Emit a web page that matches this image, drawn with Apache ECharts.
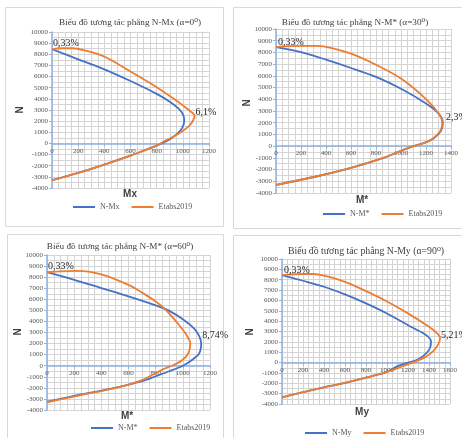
<!DOCTYPE html>
<html><head><meta charset="utf-8">
<script src="https://cdn.jsdelivr.net/npm/echarts@6/dist/echarts.min.js"></script>
<style>html,body{margin:0;padding:0;background:#fff}#c{width:462px;height:438px}</style>
</head><body><div id="c"></div>
<script>
const titles = ['Biểu đồ tương tác phẳng N-Mx (α=0⁰)','Biểu đồ tương tác phẳng N-M* (α=30⁰)','Biểu đồ tương tác phẳng N-M* (α=60⁰)','Biểu đồ tương tác phẳng N-My (α=90⁰)'];
const xNames = ['Mx','M*','M*','My'];
const blueNames = ['N-Mx','N-M*','N-M*','N-My'];
const orangeName = 'Etabs2019';
const xMaxs = [1200,1400,1200,1600];
const yMin = -4000, yMax = 10000;
const startLabels = ['0,33%','0,33%','0,33%','0,33%'];
const tipLabels = ['6,1%','2,3%','8,74%','5,21%'];
const startPoints = [[0,8450],[0,8450],[0,8450],[0,8450]];
const tipPoints = [[1090,2500],[1335,2000],[1135,2000],[1505,2400]];

const p1Blue = [[0,8450],[200,7550],[400,6650],[600,5600],[800,4450],[900,3750],[970,3100],[1005,2500],[1010,2000],[995,1400],[960,900],[910,450],[860,100],[800,-200],[700,-650],[600,-1100],[400,-1900],[200,-2650],[0,-3300]];
const p1Orange = [[0,8450],[80,8540],[160,8540],[250,8350],[400,7800],[600,6450],[800,5050],[950,3850],[1050,2950],[1090,2500],[1080,2100],[1050,1600],[990,1050],[920,550],[850,150],[800,-200],[700,-650],[600,-1100],[400,-1900],[200,-2650],[0,-3320]];
const p2Blue = [[0,8450],[200,8030],[400,7380],[600,6670],[800,5910],[1000,4900],[1200,3650],[1300,2800],[1335,2000],[1320,1300],[1260,650],[1180,250],[1100,0],[1000,-400],[860,-1000],[600,-1850],[330,-2570],[0,-3300]];
const p2Orange = [[0,8450],[100,8530],[200,8560],[300,8560],[400,8480],[600,7900],[800,6950],[1000,5770],[1200,4020],[1300,2800],[1330,2000],[1315,1300],[1255,650],[1180,250],[1100,0],[1000,-400],[860,-1000],[600,-1850],[330,-2570],[0,-3320]];
const p3Blue = [[0,8450],[200,7760],[400,7010],[600,6260],[800,5450],[900,4950],[1000,4200],[1080,3400],[1120,2700],[1135,2000],[1120,1100],[1060,450],[1000,0],[900,-500],[800,-950],[700,-1400],[500,-2000],[250,-2600],[0,-3250]];
const p3Orange = [[0,8450],[100,8530],[220,8560],[400,8250],[600,7300],[700,6600],[800,5800],[870,5100],[950,4000],[1020,2900],[1055,2000],[1040,1100],[990,450],[920,0],[850,-350],[780,-800],[700,-1300],[600,-1700],[450,-2150],[250,-2650],[0,-3300]];
const p4Blue = [[0,8450],[200,7900],[400,7320],[600,6580],[800,5710],[1000,4740],[1200,3610],[1350,2800],[1410,2300],[1420,2000],[1405,1300],[1340,600],[1270,200],[1200,0],[1100,-350],[1000,-900],[800,-1450],[600,-1950],[400,-2400],[200,-2850],[0,-3350]];
const p4Orange = [[0,8450],[200,8550],[300,8550],[400,8400],[600,7800],[800,6900],[1000,5900],[1200,4750],[1400,3450],[1480,2800],[1505,2400],[1490,1800],[1440,1100],[1350,450],[1240,0],[1150,-350],[1000,-900],[800,-1450],[600,-1950],[400,-2400],[200,-2850],[0,-3370]];
const blueData = [p1Blue,p2Blue,p3Blue,p4Blue];
const orangeData = [p1Orange,p2Orange,p3Orange,p4Orange];

const BLUE = '#4472C4', ORANGE = '#ED7D31', GRID = '#d4d4d4', AXIS = '#8fb1e0', TXT = '#595959';
const SERIF = '"Liberation Serif","DejaVu Serif",serif';
const SANS = '"Liberation Sans","DejaVu Sans",sans-serif';

const grids = [
  {left:52, top:32, width:157, height:156},
  {left:276, top:29, width:175, height:164},
  {left:47, top:255, width:163, height:155},
  {left:282, top:259, width:168, height:145}
];
const titlePos = [[130,18],[355,18],[120,242],[366,246]];
const legendPos = [[68,198],[318,205],[86,419],[300,424]];
const xNamePos = [[130,194],[362,200],[127,416],[362,412]];
const yNamePos = [[20,110],[247,103],[18,332],[250,332]];
const frames = [[5,7,218,219],[233,7,240,221],[7,234,216,210],[233,235,240,210]];
const startOff = [[1,-6],[2,-5],[1,-6],[2,-5]];
const tipOff = [[1,-3],[3,-5],[1,-8],[1,-2]];

const xAxes = [], yAxes = [], series = [], title = [], legend = [], graphic = [];
for (let i=0;i<4;i++){
  const zeroOffset = -grids[i].height * (0 - yMin) / (yMax - yMin);
  xAxes.push({gridIndex:i, type:'value', min:0, max:xMaxs[i], interval:200, position:'bottom', offset:zeroOffset,
    axisLine:{onZero:false, lineStyle:{color:AXIS, width:1.5}},
    axisTick:{show:true, length:3, lineStyle:{color:AXIS}},
    axisLabel:{fontSize:7, color:TXT, fontFamily:SERIF, margin:4, formatter:v=>String(v)},
    splitLine:{show:true, lineStyle:{color:GRID, width:1}},
    minorTick:{show:false, splitNumber:4},
    minorSplitLine:{show:true, lineStyle:{color:GRID, width:1}}});
  yAxes.push({gridIndex:i, type:'value', min:yMin, max:yMax, interval:1000,
    axisLine:{show:true, onZero:false, lineStyle:{color:AXIS, width:1.5}},
    axisTick:{show:true, length:3, lineStyle:{color:AXIS}},
    axisLabel:{fontSize:7, color:TXT, fontFamily:SERIF, margin:4, formatter:v=>String(v)},
    splitLine:{show:true, lineStyle:{color:GRID, width:1}},
    minorTick:{show:false, splitNumber:2},
    minorSplitLine:{show:true, lineStyle:{color:GRID, width:1}}});
  series.push({type:'line', name:blueNames[i], xAxisIndex:i, yAxisIndex:i, data:blueData[i],
    smooth:0.3, showSymbol:false, lineStyle:{color:BLUE, width:1.8}, itemStyle:{color:BLUE}, z:3});
  series.push({type:'line', name:orangeName, xAxisIndex:i, yAxisIndex:i, data:orangeData[i],
    smooth:0.3, showSymbol:false, lineStyle:{color:ORANGE, width:1.8}, itemStyle:{color:ORANGE}, z:4,
    markPoint:{symbol:'circle', symbolSize:0, silent:true, animation:false,
      data:[
        {coord:startPoints[i], label:{show:true, formatter:startLabels[i], position:startOff[i], align:'left', verticalAlign:'middle', fontSize:10, color:'#262626', fontFamily:SERIF}},
        {coord:tipPoints[i], label:{show:true, formatter:tipLabels[i], position:tipOff[i], align:'left', verticalAlign:'middle', fontSize:10, color:'#262626', fontFamily:SERIF}}
      ]}});
  title.push({text:titles[i], left:titlePos[i][0], top:titlePos[i][1], textAlign:'center', padding:0,
    textStyle:{fontSize:i===3?9.8:9.2, fontWeight:'normal', color:'#404040', fontFamily:SERIF}});
  legend.push({data:[blueNames[i], orangeName], left:legendPos[i][0], top:legendPos[i][1],
    icon:'rect', itemWidth:22, itemHeight:2, itemGap:12, selectedMode:false,
    textStyle:{fontSize:8, color:TXT, fontFamily:SERIF}});
  graphic.push({type:'rect', shape:{x:frames[i][0]+0.5, y:frames[i][1]+0.5, width:frames[i][2], height:frames[i][3]},
    style:{fill:'none', stroke:'#d9d9d9', lineWidth:1}, silent:true, z:-10});
  graphic.push({type:'text', x:xNamePos[i][0], y:xNamePos[i][1],
    style:{text:xNames[i], fill:'#404040', font:'bold 10px '+SANS, textAlign:'center', textVerticalAlign:'middle'}});
  graphic.push({type:'text', x:yNamePos[i][0], y:yNamePos[i][1], rotation:Math.PI/2,
    style:{text:'N', fill:'#404040', font:'bold 10px '+SANS, textAlign:'center', textVerticalAlign:'middle'}});
}

const chart = echarts.init(document.getElementById('c'), null, {renderer:'canvas'});
chart.setOption({backgroundColor:'#fff', animation:false, grid:grids, xAxis:xAxes, yAxis:yAxes,
  series:series, title:title, legend:legend, graphic:graphic});
</script></body></html>
